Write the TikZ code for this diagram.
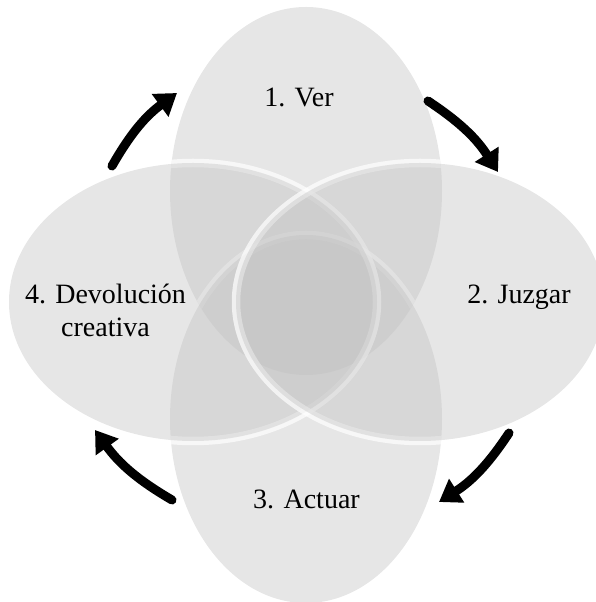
\documentclass[tikz,border=0pt]{standalone}
\usepackage{fontspec}
\setmainfont{Liberation Serif}
\usetikzlibrary{arrows.meta}
\definecolor{petalgray}{RGB}{192,192,192}
\begin{document}
\begin{tikzpicture}[x=1pt,y=1pt,
  petal/.style={fill=petalgray, fill opacity=0.4},
  rim/.style={draw=white, draw opacity=0.7, line width=8.5pt},
  cyclearrow/.style={line width=9pt, line cap=round, -{Triangle[length=21pt,width=27pt]}, bend left=12},
  lbl/.style={font=\fontsize{28}{34}\selectfont, anchor=base, inner sep=0pt, text=black}]
\useasboundingbox (0,0) rectangle (596,602);
% ellipse centres
\coordinate (vt) at (306,411);
\coordinate (vb) at (306,183);
\coordinate (hl) at (193,300);
\coordinate (hr) at (420,300);
% top petal
\fill[petal] (vt) ellipse [x radius=136, y radius=184];
% bottom petal (rim shows over earlier petals only)
\begin{scope}
  \clip (vt) ellipse [x radius=136, y radius=184];
  \draw[rim] (vb) ellipse [x radius=136, y radius=184];
\end{scope}
\fill[petal] (vb) ellipse [x radius=136, y radius=184];
% left petal
\begin{scope}
  \clip (vt) ellipse [x radius=136, y radius=184] (vb) ellipse [x radius=136, y radius=184];
  \draw[rim] (hl) ellipse [x radius=184, y radius=139];
\end{scope}
\fill[petal] (hl) ellipse [x radius=184, y radius=139];
% right petal
\begin{scope}
  \clip (vt) ellipse [x radius=136, y radius=184] (vb) ellipse [x radius=136, y radius=184] (hl) ellipse [x radius=184, y radius=139];
  \draw[rim] (hr) ellipse [x radius=184, y radius=139];
\end{scope}
\fill[petal] (hr) ellipse [x radius=184, y radius=139];
% labels
\node[lbl] (ver) at (299,495) {1. Ver};
\node[lbl] (juz) at (519,298) {2. Juzgar};
\node[lbl] (act) at (306.5,93) {3. Actuar};
\node[lbl] (dev1) at (105.5,298) {4. Devolución};
\node[lbl] (dev2) at (105.5,265) {creativa};
% cycle arrows
\coordinate (a1s) at (112,436); \coordinate (a1e) at (177,509);
\coordinate (a2s) at (428,501); \coordinate (a2e) at (498,430);
\coordinate (a3s) at (509,169); \coordinate (a3e) at (439,100);
\coordinate (a4s) at (172,102); \coordinate (a4e) at (95,172);
\draw[cyclearrow] (a1s) to (a1e);
\draw[cyclearrow] (a2s) to (a2e);
\draw[cyclearrow] (a3s) to (a3e);
\draw[cyclearrow] (a4s) to (a4e);
\end{tikzpicture}
\end{document}
